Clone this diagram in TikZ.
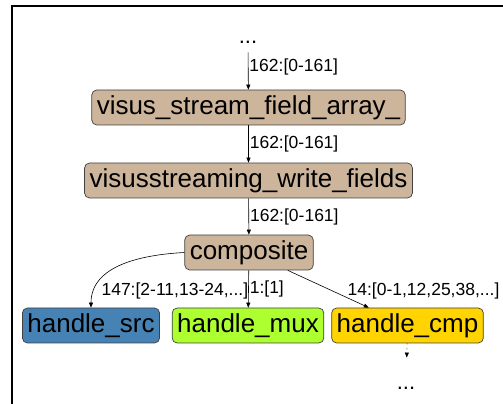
\documentclass[tikz,border=0pt]{standalone}
\usepackage{fontspec}
\setmainfont{Liberation Sans}
\usepackage{xcolor}
\usepackage{tikz}
\usetikzlibrary{arrows.meta,positioning}
\definecolor{fntan}{RGB}{205,181,156}
\definecolor{fnblue}{RGB}{70,130,180}
\definecolor{fngreen}{RGB}{173,255,47}
\definecolor{fngold}{RGB}{255,212,0}
\tikzstyle{fn}=[rectangle,rounded corners=5pt,draw=black!75,line width=0.7pt,minimum height=35pt,inner xsep=5pt,inner ysep=0pt,font=\fontsize{26}{30}\selectfont]
\tikzstyle{elbl}=[font=\fontsize{17.5}{20}\selectfont,inner sep=1pt]
\tikzstyle{more}=[inner sep=0pt,font=\fontsize{22}{26}\selectfont]

\begin{document}
\begin{tikzpicture}[x=1pt,y=1pt,>={Triangle[length=5pt,width=4pt]},line width=0.6pt]
        \useasboundingbox (0,0) rectangle (503,404);
        \draw[line width=1.2pt] (12,0) -- (12,398) -- (503,398);
        \node at (248,362) [more] (up) {...};
        \node at (248.5,296.5) [fn,fill=fntan] (array) {visus\_stream\_field\_array\_};
        \node at (248.5,223.5) [fn,fill=fntan] (write) {visusstreaming\_write\_fields};
        \node at (249,151.5) [fn,fill=fntan] (comp) {composite};
        \node at (91,78.5) [fn,fill=fnblue] (src) {handle\_src};
        \node at (248,78.5) [fn,fill=fngreen] (mux) {handle\_mux};
        \node at (407.5,78.5) [fn,fill=fngold] (cmp) {handle\_cmp};
        \node at (406,16) [more] (down) {...};
        \draw [->,shorten <=9pt] (up) -- (array) node[elbl,midway,right] {162:[0-161]};
        \draw [->] (array) -- (write) node[elbl,midway,right] {162:[0-161]};
        \draw [->] (write) -- (comp) node[elbl,midway,right] {162:[0-161]};
        \draw [->] (comp.west) to[out=183,in=90] node[elbl,pos=0.85,anchor=west,xshift=6pt] {147:[2-11,13-24,...]} (src);
        \draw [->] (comp) -- (mux) node[elbl,midway,right] {1:[1]};
        \draw [->] (comp) -- (cmp) node[elbl,pos=0.55,anchor=west,xshift=14pt] {14:[0-1,12,25,38,...]};
        \draw [->,dash pattern=on 1pt off 4pt,shorten >=29pt] (cmp) -- (down);
      \end{tikzpicture}
\end{document}
